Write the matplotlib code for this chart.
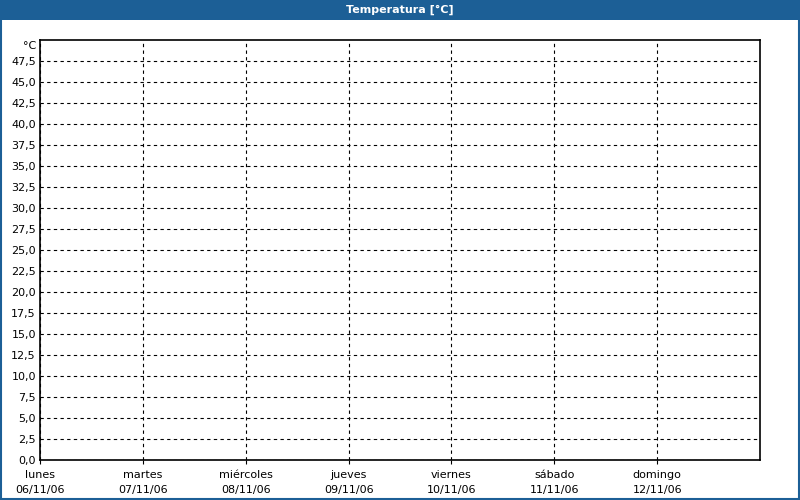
import numpy as np
import matplotlib
matplotlib.use("Agg")
import matplotlib.pyplot as plt
from matplotlib.patches import Rectangle

# data
days = ["lunes", "martes", "miércoles", "jueves", "viernes", "sábado", "domingo"]
dates = ["06/11/06", "07/11/06", "08/11/06", "09/11/06", "10/11/06", "11/11/06", "12/11/06"]
y_ticks = [0.0, 2.5, 5.0, 7.5, 10.0, 12.5, 15.0, 17.5, 20.0, 22.5, 25.0,
           27.5, 30.0, 32.5, 35.0, 37.5, 40.0, 42.5, 45.0, 47.5]
title = "Temperatura [°C]"
unit = "°C"

blue = "#1c5f96"
plt.rcParams['font.family'] = ['DejaVu Sans']

fig = plt.figure(figsize=(8, 5), dpi=100)

# frame: title bar + thin border
fig.patches.append(Rectangle((0, 0.96), 1, 0.04, transform=fig.transFigure,
                             facecolor=blue, edgecolor="none", zorder=0))
fig.patches.append(Rectangle((0.0012, 0.002), 0.9976, 0.97, transform=fig.transFigure,
                             facecolor="none", edgecolor=blue, linewidth=1.5, zorder=0))
fig.text(0.5, 0.98, title, color="white", fontsize=8, fontweight="bold",
         ha="center", va="center")

ax = fig.add_axes([0.05, 0.08, 0.9, 0.84])
ax.set_xlim(0, len(days))
ax.set_ylim(0, 50)

x = np.arange(len(days))
ax.set_xticks(x)
ax.set_xticklabels([d + "\n" + t for d, t in zip(days, dates)], fontsize=8, linespacing=1.7)
ax.set_yticks(y_ticks)
ax.set_yticklabels([f"{v:.1f}".replace(".", ",") for v in y_ticks], fontsize=8)
# unit label just under the top of the axis
ax.annotate(unit, xy=(0, 49.3), xycoords=ax.get_yaxis_transform(),
            xytext=(-3, 0), textcoords="offset points", fontsize=8,
            ha="right", va="center")

ax.grid(True, color="black", linestyle=(0, (3, 3)), linewidth=0.8)
ax.tick_params(axis="x", length=3, width=0.8, pad=4, color="black")
ax.tick_params(axis="y", length=0, pad=3)
for s in ax.spines.values():
    s.set_linewidth(1.2)
    s.set_color("black")

fig.savefig("out.png", dpi=100)
